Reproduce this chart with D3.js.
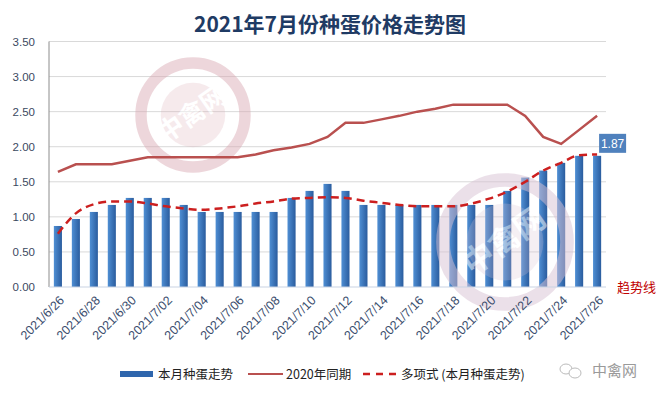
<!DOCTYPE html>
<html>
<head>
<meta charset="utf-8">
<script src="https://cdn.jsdelivr.net/npm/d3@7"></script>
<style>
  body { margin: 0; background: #fff; }
  text { font-family: "Noto Sans CJK SC", "Noto Sans", sans-serif; }
</style>
</head>
<body>
<div id="container"></div>
<script>
/* DATA */
const dates = ["2021/6/26","2021/6/27","2021/6/28","2021/6/29","2021/6/30","2021/7/01","2021/7/02","2021/7/03",
  "2021/7/04","2021/7/05","2021/7/06","2021/7/07","2021/7/08","2021/7/09","2021/7/10","2021/7/11","2021/7/12",
  "2021/7/13","2021/7/14","2021/7/15","2021/7/16","2021/7/17","2021/7/18","2021/7/19","2021/7/20","2021/7/21",
  "2021/7/22","2021/7/23","2021/7/24","2021/7/25","2021/7/26"];
const shownLabels = ["2021/6/26","2021/6/28","2021/6/30","2021/7/02","2021/7/04","2021/7/06","2021/7/08","2021/7/10",
  "2021/7/12","2021/7/14","2021/7/16","2021/7/18","2021/7/20","2021/7/22","2021/7/24","2021/7/26"];
const thisMonth = [0.87,0.97,1.07,1.17,1.27,1.27,1.27,1.17,1.07,1.07,1.07,1.07,1.07,1.27,1.37,1.47,1.37,
  1.17,1.17,1.17,1.17,1.17,1.17,1.17,1.17,1.37,1.56,1.66,1.77,1.87,1.87];
const lastYear = [1.64,1.75,1.75,1.75,1.80,1.85,1.85,1.85,1.85,1.85,1.85,1.89,1.95,1.99,2.04,2.14,2.34,
  2.34,2.39,2.44,2.50,2.54,2.60,2.60,2.60,2.60,2.44,2.14,2.04,2.24,2.44];
const trend = [0.76,1.05,1.18,1.22,1.22,1.19,1.15,1.12,1.10,1.12,1.15,1.19,1.22,1.26,1.27,1.28,1.27,
  1.23,1.20,1.17,1.15,1.15,1.15,1.19,1.26,1.36,1.50,1.66,1.77,1.88,1.89];
const yTicks = [0,0.5,1,1.5,2,2.5,3,3.5];

/* CONSTANTS */
const width = 659, height = 396;
const plotLeft = 49, plotRight = 606, plotTop = 41.5, plotBottom = 287;

const svg = d3.select("#container").append("svg")
  .attr("width", width).attr("height", height);

const defs = svg.append("defs");
const grad = defs.append("linearGradient").attr("id", "barGrad")
  .attr("x1", "0").attr("x2", "1").attr("y1", "0").attr("y2", "0");
grad.append("stop").attr("offset", "0").attr("stop-color", "#4f8fd4");
grad.append("stop").attr("offset", "1").attr("stop-color", "#2a5c9e");

// SCALES
const xScale = d3.scaleBand().domain(dates).range([plotLeft, plotRight]).paddingInner(0.55).paddingOuter(0.27);
const yScale = d3.scaleLinear().domain([0, 3.5]).range([plotBottom, plotTop]);
const cx = d => xScale(d) + xScale.bandwidth() / 2;

// TITLE
svg.append("text")
  .attr("x", 330).attr("y", 32)
  .attr("text-anchor", "middle")
  .style("font-size", "21px").style("font-weight", "bold")
  .attr("fill", "#1f3b64")
  .text("2021年7月份种蛋价格走势图");

// GRID
svg.append("g").selectAll("line").data(yTicks.slice(1)).join("line")
  .attr("x1", plotLeft).attr("x2", plotRight)
  .attr("y1", d => yScale(d)).attr("y2", d => yScale(d))
  .attr("stroke", "#d9d9d9").attr("stroke-width", 1);

// WATERMARKS
function watermark(x, y, r, col, op) {
  const g = svg.append("g").attr("opacity", op);
  g.append("circle").attr("cx", x).attr("cy", y).attr("r", r)
    .attr("fill", "none").attr("stroke", col).attr("stroke-width", r * 0.22);
  g.append("circle").attr("cx", x).attr("cy", y).attr("r", r * 0.62)
    .attr("fill", col).attr("opacity", 0.5);
  g.append("text").attr("x", x).attr("y", y + r * 0.15)
    .attr("text-anchor", "middle")
    .attr("transform", `rotate(-35,${x},${y})`)
    .style("font-size", (r * 0.5) + "px").style("font-weight", "bold")
    .attr("fill", "#fff").text("中禽网");
}
watermark(193, 115, 52, "#d9a6b0", 0.45);

// BARS
svg.append("g").selectAll("rect").data(thisMonth).join("rect")
  .attr("x", (d, i) => xScale(dates[i]))
  .attr("y", d => yScale(d))
  .attr("width", xScale.bandwidth())
  .attr("height", d => plotBottom - yScale(d))
  .attr("fill", "url(#barGrad)");

watermark(505, 242, 62, "#d9c2d4", 0.5);

// AXES
svg.append("line").attr("x1", plotLeft).attr("x2", plotLeft).attr("y1", plotTop).attr("y2", plotBottom)
  .attr("stroke", "#8c8c8c");
svg.append("line").attr("x1", plotLeft).attr("x2", plotRight).attr("y1", plotBottom).attr("y2", plotBottom)
  .attr("stroke", "#c9d3e3");

const yAxis = d3.axisLeft(yScale).tickValues(yTicks).tickFormat(d3.format(".2f")).tickSize(0).tickPadding(14);
svg.append("g").attr("transform", `translate(${plotLeft},0)`).call(yAxis)
  .call(g => g.select(".domain").remove())
  .selectAll("text").attr("fill", "#3b4a5f").style("font-size", "11.5px")
  .style("font-family", "'Liberation Sans', sans-serif");

const xAxis = d3.axisBottom(xScale).tickValues(shownLabels).tickSize(0);
svg.append("g").attr("transform", `translate(0,${plotBottom})`).call(xAxis)
  .call(g => g.select(".domain").remove())
  .selectAll("text")
  .attr("text-anchor", "end")
  .attr("dx", "0").attr("dy", "0")
  .attr("transform", "translate(5,12) rotate(-45)")
  .attr("fill", "#3b4e6e").style("font-size", "12.5px")
  .style("font-family", "'Liberation Sans', sans-serif");

// LINES
const line = d3.line().x((d, i) => cx(dates[i])).y(d => yScale(d));
svg.append("path").datum(lastYear).attr("d", line)
  .attr("fill", "none").attr("stroke", "#b9504f").attr("stroke-width", 2.5);

const curve = d3.line().x((d, i) => cx(dates[i])).y(d => yScale(d)).curve(d3.curveMonotoneX);
svg.append("path").datum(trend).attr("d", curve)
  .attr("fill", "none").attr("stroke", "#cc1f1f").attr("stroke-width", 2.5)
  .attr("stroke-dasharray", "8,5");

// DATA LABEL
const lastX = cx(dates[dates.length - 1]);
svg.append("rect").attr("x", lastX + 2).attr("y", yScale(thisMonth[30]) - 22)
  .attr("width", 27).attr("height", 19).attr("fill", "#4f81bd");
svg.append("text").attr("x", lastX + 15.5).attr("y", yScale(thisMonth[30]) - 8)
  .attr("text-anchor", "middle").attr("fill", "#fff")
  .style("font-size", "12px").style("font-family", "'Liberation Sans', sans-serif")
  .text(thisMonth[30].toFixed(2));

svg.append("text").attr("x", 617).attr("y", 292)
  .attr("fill", "#c00000").style("font-size", "13px").text("趋势线");

// LEGEND
const lg = svg.append("g").attr("transform", "translate(0,374)");
lg.append("rect").attr("x", 120).attr("y", -3).attr("width", 33).attr("height", 6).attr("fill", "#2f66ad");
lg.append("text").attr("x", 158).attr("y", 4.5).style("font-size", "12.5px").attr("fill", "#222").text("本月种蛋走势");
lg.append("line").attr("x1", 248).attr("x2", 283).attr("y1", 0).attr("y2", 0)
  .attr("stroke", "#b9504f").attr("stroke-width", 2);
lg.append("text").attr("x", 286).attr("y", 4.5).style("font-size", "12.5px").attr("fill", "#222").text("2020年同期");
lg.append("line").attr("x1", 363).attr("x2", 397).attr("y1", 0).attr("y2", 0)
  .attr("stroke", "#cc1f1f").attr("stroke-width", 2.5).attr("stroke-dasharray", "7,6");
lg.append("text").attr("x", 401).attr("y", 4.5).style("font-size", "12.5px").attr("fill", "#222").text("多项式 (本月种蛋走势)");

// BRAND
const bg = svg.append("g").attr("transform", "translate(0,370)");
bg.append("ellipse").attr("cx", 566).attr("cy", -1).attr("rx", 6).attr("ry", 5)
  .attr("fill", "none").attr("stroke", "#bbb");
bg.append("ellipse").attr("cx", 575).attr("cy", 3).attr("rx", 6).attr("ry", 5)
  .attr("fill", "#fff").attr("stroke", "#bbb");
bg.append("text").attr("x", 592).attr("y", 6).style("font-size", "15px").attr("fill", "#9a9a9a").text("中禽网");
</script>
</body>
</html>
